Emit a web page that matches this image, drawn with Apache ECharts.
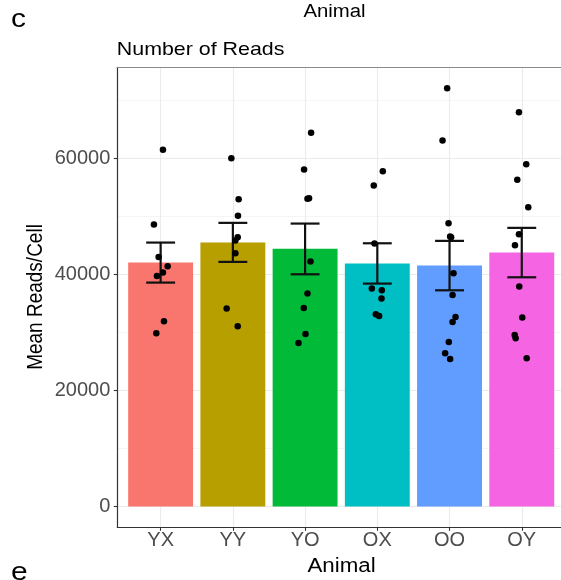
<!DOCTYPE html>
<html>
<head>
<meta charset="utf-8">
<script src="https://cdn.jsdelivr.net/npm/echarts@6/dist/echarts.min.js"></script>
<style>html,body{margin:0;padding:0;background:#fff;overflow:hidden;}#chart{width:561px;height:580px;}</style>
</head>
<body>
<div id="chart"></div>
<script>
const categories = ['YX', 'YY', 'YO', 'OX', 'OO', 'OY'];
const barColors = ['#F8766D', '#B79F00', '#00BA38', '#00BFC4', '#619CFF', '#F564E3'];
const meanReads = [42017, 45491, 44389, 41858, 41500, 43734];
const errLow = [38569, 42138, 40000, 38397, 37241, 39483];
const errHigh = [45466, 48862, 48741, 45345, 45759, 48000];
const yTicks = [0, 20000, 40000, 60000];
const yMinor = [10000, 30000, 50000, 70000];

const ptsYX = [61448, 48569, 43000, 41379, 40293, 39724, 31897, 29828];
const jitYX = [0.032, -0.093, -0.028, 0.097, 0.032, -0.051, 0.046, -0.060];
const ptsYY = [60000, 52931, 50069, 46379, 45810, 43621, 34086, 31034];
const jitYY = [-0.021, 0.080, 0.071, 0.067, 0.035, 0.035, -0.086, 0.067];
const ptsYO = [64379, 58052, 53103, 53000, 42190, 36672, 34207, 29724, 28172];
const jitYO = [0.083, -0.014, 0.055, 0.033, 0.075, 0.033, -0.018, 0.006, -0.091];
const ptsOX = [57759, 55293, 45293, 37534, 37241, 35810, 33103, 32828];
const jitOX = [0.076, -0.049, -0.039, -0.076, 0.062, 0.058, -0.021, 0.025];
const ptsOO = [72069, 63052, 48793, 46500, 46379, 40172, 36448, 32655, 31793, 28345, 26379, 25414];
const jitOO = [-0.033, -0.097, -0.014, 0.008, 0.022, 0.055, 0.042, 0.083, 0.042, -0.010, -0.061, 0.008];
const ptsOY = [67931, 58966, 56276, 51552, 46897, 45000, 37879, 32534, 29552, 28966, 25517];
const jitOY = [-0.039, 0.062, -0.062, 0.090, -0.039, -0.094, -0.035, 0.007, -0.098, -0.085, 0.068];

const groupPts = [ptsYX, ptsYY, ptsYO, ptsOX, ptsOO, ptsOY];
const groupJit = [jitYX, jitYY, jitYO, jitOX, jitOO, jitOY];

const catPos = categories.map((c, i) => i + 1);
const barData = meanReads.map((v, i) => ({ value: [catPos[i], v], itemStyle: { color: barColors[i] } }));
const errData = meanReads.map((v, i) => [catPos[i], errLow[i], errHigh[i]]);
const scatterData = [];
groupPts.forEach((arr, g) => arr.forEach((v, k) => scatterData.push([catPos[g] + groupJit[g][k], v])));

const yMin = -3603, yMax = 75672;
const FONT = '"Liberation Sans", Arial, Helvetica, sans-serif';
const SX = 1.15;

const chart = echarts.init(document.getElementById('chart'), null, { renderer: 'canvas' });
chart.setOption({
  animation: false,
  backgroundColor: '#ffffff',
  grid: {
    left: 117.3, top: 67.3, width: 447.8, height: 460,
    outerBoundsMode: 'none', containLabel: false, show: false
  },
  xAxis: [{
    type: 'value', min: 0.4, max: 6.6,
    axisLine: { show: true, onZero: false, lineStyle: { color: '#333333', width: 1.2 } },
    axisTick: { show: true, length: 3.5, customValues: catPos, lineStyle: { color: '#333333', width: 1.1 } },
    axisLabel: {
      customValues: catPos, margin: 3,
      formatter: v => categories[Math.round(v) - 1] || '',
      color: '#4D4D4D', fontSize: 20, fontFamily: FONT
    },
    splitLine: { show: true, lineStyle: { color: '#EBEBEB', width: 1.1 } }
  }, {
    type: 'value', min: 0.4, max: 6.6, position: 'top',
    axisLine: { show: true, onZero: false, lineStyle: { color: '#8a8a8a', width: 1 } },
    axisTick: { show: false }, axisLabel: { show: false }, splitLine: { show: false }
  }],
  yAxis: [{
    type: 'value', min: yMin, max: yMax,
    axisLine: { show: true, onZero: false, lineStyle: { color: '#333333', width: 1.2 } },
    axisTick: { show: true, length: 3.5, customValues: yTicks, lineStyle: { color: '#333333', width: 1.1 } },
    axisLabel: { customValues: yTicks, margin: 7, color: '#4D4D4D', fontSize: 20, fontFamily: FONT, formatter: v => String(Math.round(v)) },
    splitLine: { show: true, lineStyle: { color: '#EBEBEB', width: 1.1 } }
  }, {
    type: 'value', min: yMin, max: yMax, position: 'left',
    axisLine: { show: false }, axisLabel: { show: false },
    axisTick: { show: false, customValues: yMinor },
    splitLine: { show: true, lineStyle: { color: '#F2F2F2', width: 0.8 } }
  }],
  series: [{
    type: 'bar', data: barData, barWidth: 64.9, z: 3
  }, {
    type: 'custom', z: 5,
    renderItem: function (params, api) {
      const x = api.value(0), lo = api.value(1), hi = api.value(2);
      const pLo = api.coord([x, lo]), pHi = api.coord([x, hi]);
      const pL = api.coord([x - 0.2, lo]), pR = api.coord([x + 0.2, lo]);
      const style = { stroke: '#111111', lineWidth: 2.2 };
      return { type: 'group', children: [
        { type: 'line', shape: { x1: pLo[0], y1: pLo[1], x2: pHi[0], y2: pHi[1] }, style },
        { type: 'line', shape: { x1: pL[0], y1: pLo[1], x2: pR[0], y2: pLo[1] }, style },
        { type: 'line', shape: { x1: pL[0], y1: pHi[1], x2: pR[0], y2: pHi[1] }, style }
      ] };
    },
    data: errData
  }, {
    type: 'scatter', data: scatterData, symbolSize: 6.5, z: 6,
    itemStyle: { color: '#000000', opacity: 1 }
  }],
  graphic: [
    { type: 'text', x: 11, y: 19.5, scaleX: SX, style: { text: 'c', fontSize: 26, fontFamily: FONT, fill: '#000', align: 'left', verticalAlign: 'middle' } },
    { type: 'text', x: 334.5, y: 12, scaleX: 1.13, style: { text: 'Animal', fontSize: 18, fontFamily: FONT, fill: '#000', align: 'center', verticalAlign: 'middle' } },
    { type: 'text', x: 116.8, y: 50, scaleX: SX, style: { text: 'Number of Reads', fontSize: 18.6, fontFamily: FONT, fill: '#000', align: 'left', verticalAlign: 'middle' } },
    { type: 'text', x: 35.8, y: 297, rotation: Math.PI / 2, scaleY: SX, style: { text: 'Mean Reads/Cell', fontSize: 19, fontFamily: FONT, fill: '#000', align: 'center', verticalAlign: 'middle' } },
    { type: 'text', x: 341.5, y: 566.2, scaleX: SX, style: { text: 'Animal', fontSize: 19.4, fontFamily: FONT, fill: '#000', align: 'center', verticalAlign: 'middle' } },
    { type: 'text', x: 11, y: 572.5, scaleX: SX, style: { text: 'e', fontSize: 26, fontFamily: FONT, fill: '#000', align: 'left', verticalAlign: 'middle' } }
  ]
});
</script>
</body>
</html>
